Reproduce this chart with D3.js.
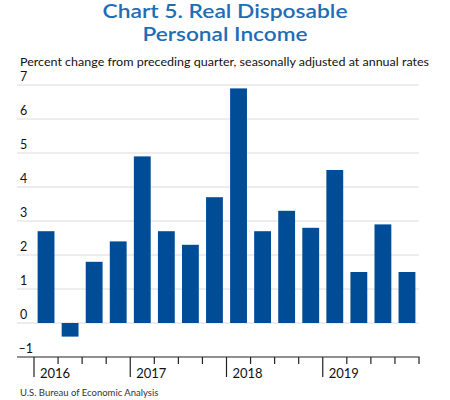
<!DOCTYPE html>
<html>
<head>
<meta charset="utf-8">
<script src="https://cdn.jsdelivr.net/npm/d3@7"></script>
<style>
  html, body { margin: 0; padding: 0; background: #fff; }
  svg { display: block; }
  text { font-family: "Lato", "Noto Sans", sans-serif; }
</style>
</head>
<body>
<svg id="chart" width="450" height="400"></svg>
<script>
const quarters = ["2016Q1","2016Q2","2016Q3","2016Q4","2017Q1","2017Q2","2017Q3","2017Q4",
                  "2018Q1","2018Q2","2018Q3","2018Q4","2019Q1","2019Q2","2019Q3","2019Q4"];
const values = [2.7, -0.4, 1.8, 2.4, 4.9, 2.7, 2.3, 3.7, 6.9, 2.7, 3.3, 2.8, 4.5, 1.5, 2.9, 1.5];
const years = ["2016", "2017", "2018", "2019"];
const yTicks = [-1, 0, 1, 2, 3, 4, 5, 6, 7];
const titleLines = ["Chart 5. Real Disposable", "Personal Income"];
const subtitle = "Percent change from preceding quarter, seasonally adjusted at annual rates";
const source = "U.S. Bureau of Economic Analysis";

const svg = d3.select("#chart");
const gLeft = 17, gRight = 419, gTop = 85, gBottom = 357;
const plotLeft = 34;

const x = d3.scaleBand().domain(quarters).range([plotLeft, gRight]).paddingInner(0.3).paddingOuter(0.15);
const y = d3.scaleLinear().domain([-1, 7]).range([gBottom, gTop]);

// Title
const titleWidths = [245, 165];
svg.append("g").selectAll("text").data(titleLines).join("text")
  .attr("x", 225).attr("y", (d, i) => 18 + i * 23)
  .attr("text-anchor", "middle")
  .attr("fill", "#1f6db5")
  .attr("font-family", "'Open Sans', 'Noto Sans', sans-serif")
  .attr("font-size", 19.5).attr("font-weight", 600)
  .attr("textLength", (d, i) => titleWidths[i]).attr("lengthAdjust", "spacingAndGlyphs")
  .text(d => d);

svg.append("text").attr("x", 20).attr("y", 65.5)
  .attr("font-size", 11.3).attr("fill", "#111")
  .attr("textLength", 409).attr("lengthAdjust", "spacingAndGlyphs")
  .text(subtitle);

// gridlines
svg.append("g").selectAll("line").data(yTicks.filter(t => t !== -1)).join("line")
  .attr("x1", gLeft).attr("x2", gRight)
  .attr("y1", d => y(d)).attr("y2", d => y(d))
  .attr("stroke", "#dcdcdc").attr("stroke-width", 1);

// y labels
svg.append("g").selectAll("text").data(yTicks).join("text")
  .attr("x", d => d < 0 ? 18.5 : 20).attr("y", d => y(d) - 4)
  .attr("font-size", 12.5).attr("fill", "#111")
  .text(d => d < 0 ? "\u2013" + Math.abs(d) : d);

// bars
svg.append("g").selectAll("rect").data(values).join("rect")
  .attr("x", (d, i) => x(quarters[i]))
  .attr("width", x.bandwidth())
  .attr("y", d => y(Math.max(0, d)))
  .attr("height", d => Math.abs(y(d) - y(0)))
  .attr("fill", "#004c97");

// axis
svg.append("line").attr("x1", gLeft).attr("x2", gRight + 0.5)
  .attr("y1", gBottom).attr("y2", gBottom)
  .attr("stroke", "#222").attr("stroke-width", 1.2);

const boundaries = d3.range(quarters.length + 1).map(i => plotLeft + i * (gRight - plotLeft) / quarters.length);
svg.append("g").selectAll("line").data(boundaries).join("line")
  .attr("x1", d => d).attr("x2", d => d)
  .attr("y1", gBottom)
  .attr("y2", (d, i) => (i % 4 === 0 && i < quarters.length) ? gBottom + 20 : gBottom + 7)
  .attr("stroke", "#222").attr("stroke-width", 1.2);

svg.append("g").selectAll("text").data(years).join("text")
  .attr("x", (d, i) => boundaries[i * 4] + 6).attr("y", 378)
  .attr("font-size", 13).attr("fill", "#111")
  .text(d => d);

svg.append("text").attr("x", 20).attr("y", 396)
  .attr("font-size", 9.5).attr("fill", "#333")
  .text(source);
</script>
</body>
</html>
